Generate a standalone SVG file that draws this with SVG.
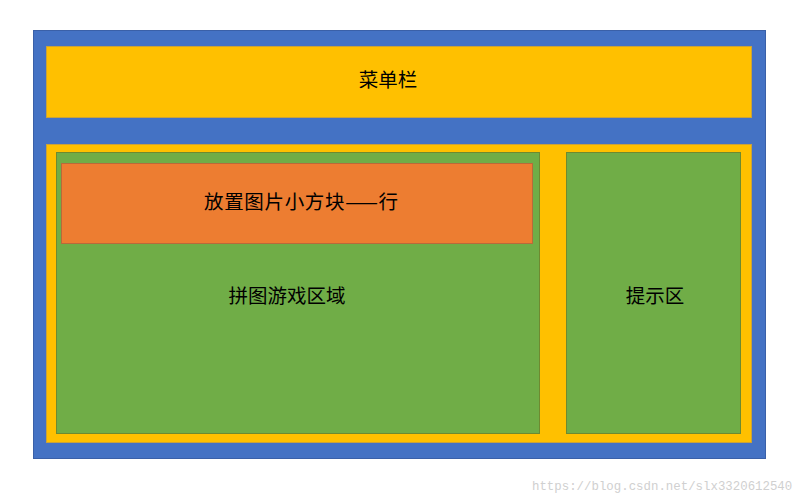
<svg xmlns="http://www.w3.org/2000/svg" width="802" height="500" viewBox="0 0 802 500">
<style>
.t{font-family:"Noto Sans CJK SC","Noto Sans",sans-serif;font-size:19.5px;fill:#000;text-anchor:middle;dominant-baseline:central}
.blue{fill:#4472C4;stroke:#3A60A8;stroke-width:1}
.yel{fill:#FFC000;stroke:#C9A23A;stroke-width:1}
.grn{fill:#70AD47;stroke:#6E8A30;stroke-width:1}
.org{fill:#ED7D31;stroke:#B86A3A;stroke-width:1}
.wm{font-family:"Liberation Mono",monospace;font-size:12.4px;fill:#D0D0D0}
</style>
<rect width="802" height="500" fill="#fff"/>
<g id="outer"><rect class="blue" x="33.5" y="30.5" width="732" height="428"/></g>
<g id="menu"><rect class="yel" x="46.5" y="46.5" width="705" height="71"/><text class="t" x="388" y="78">菜单栏</text></g>
<g id="main"><rect class="yel" x="46.5" y="144.5" width="705" height="298"/></g>
<g id="game"><rect class="grn" x="56.5" y="152.5" width="483" height="281"/><text class="t" x="287" y="294">拼图游戏区域</text></g>
<g id="row"><rect class="org" x="61.5" y="163.5" width="471" height="80"/><text class="t" x="301" y="200" textLength="194" lengthAdjust="spacing">放置图片小方块——行</text></g>
<g id="hint"><rect class="grn" x="566.5" y="152.5" width="174" height="281"/><text class="t" x="655" y="294">提示区</text></g>
<g id="connectors"/>
<text class="wm" x="532" y="490">https://blog.csdn.net/slx3320612540</text>
</svg>
